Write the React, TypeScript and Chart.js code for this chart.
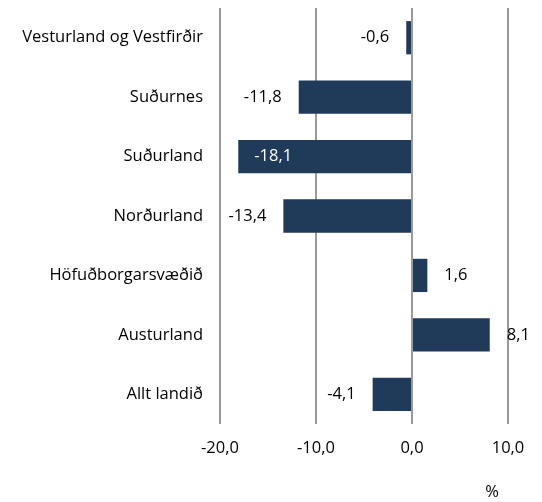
import React, { useEffect, useRef } from "react";
import { Chart, registerables } from "chart.js";

Chart.register(...registerables);

const categories = [
  "Vesturland og Vestfirðir",
  "Suðurnes",
  "Suðurland",
  "Norðurland",
  "Höfuðborgarsvæðið",
  "Austurland",
  "Allt landið",
];
const values = [-0.6, -11.8, -18.1, -13.4, 1.6, 8.1, -4.1];
const xMin = -20;
const xMax = 10;
const xStep = 10;
const unitLabel = "%";

const FONT = "'Open Sans', Lato, sans-serif";
const FONT_SIZE = 16.5;
const BAR_COLOR = "#203a5a";

const fmt = (v: number) => v.toFixed(1).replace(".", ",");

const labelPlugin = {
  id: "barLabels",
  afterDatasetsDraw(chart: any) {
    const ctx = chart.ctx;
    const meta = chart.getDatasetMeta(0);
    const area = chart.chartArea;
    ctx.save();
    ctx.font = `${FONT_SIZE}px ${FONT}`;
    ctx.textBaseline = "middle";
    meta.data.forEach((el: any, i: number) => {
      const v = values[i];
      const txt = fmt(v);
      const w = ctx.measureText(txt).width;
      const gap = 17;
      if (v < 0) {
        if (el.x - gap - w < area.left) {
          ctx.fillStyle = "#ffffff";
          ctx.textAlign = "left";
          ctx.fillText(txt, el.x + 16, el.y);
        } else {
          ctx.fillStyle = "#000000";
          ctx.textAlign = "right";
          ctx.fillText(txt, el.x - gap, el.y);
        }
      } else {
        ctx.fillStyle = "#000000";
        ctx.textAlign = "left";
        ctx.fillText(txt, el.x + gap, el.y);
      }
    });
    ctx.fillStyle = "#000000";
    ctx.textAlign = "center";
    ctx.fillText(unitLabel, 492, 492);
    ctx.restore();
  },
};

export default function App() {
  const ref = useRef<HTMLCanvasElement | null>(null);
  useEffect(() => {
    if (!ref.current) return;
    const chart = new Chart(ref.current, {
      type: "bar",
      data: {
        labels: categories,
        datasets: [
          {
            data: values,
            backgroundColor: BAR_COLOR,
            borderWidth: 0,
            barPercentage: 0.56,
            categoryPercentage: 1,
          },
        ],
      },
      options: {
        indexAxis: "y",
        animation: false,
        responsive: false,
        maintainAspectRatio: false,
        devicePixelRatio: 1,
        layout: { padding: { top: 8, right: 34, bottom: 0, left: 0 } },
        plugins: {
          legend: { display: false },
          tooltip: { enabled: false },
        },
        scales: {
          x: {
            type: "linear",
            min: xMin,
            max: xMax,
            afterFit: (s: any) => {
              s.height = 78;
              s.paddingLeft = 0;
              s.paddingRight = 0;
            },
            ticks: {
              stepSize: xStep,
              padding: 14,
              color: "#000000",
              font: { family: FONT, size: FONT_SIZE },
              callback: (v: any) => fmt(Number(v)),
            },
            grid: {
              display: true,
              color: "#9a9a9a",
              lineWidth: 2,
              drawTicks: false,
            },
            border: { display: false },
          },
          y: {
            afterFit: (s: any) => {
              s.width = 220;
              s.paddingTop = 0;
              s.paddingBottom = 0;
            },
            ticks: {
              padding: 17,
              color: "#000000",
              font: { family: FONT, size: FONT_SIZE },
            },
            grid: { display: false, drawTicks: false },
            border: { display: false },
          },
        },
      },
      plugins: [labelPlugin],
    });
    return () => chart.destroy();
  }, []);
  return (
    <div
      style={{
        position: "fixed",
        left: 0,
        top: 0,
        width: 542,
        height: 502,
        background: "#ffffff",
      }}
    >
      <canvas ref={ref} width={542} height={502} />
    </div>
  );
}
